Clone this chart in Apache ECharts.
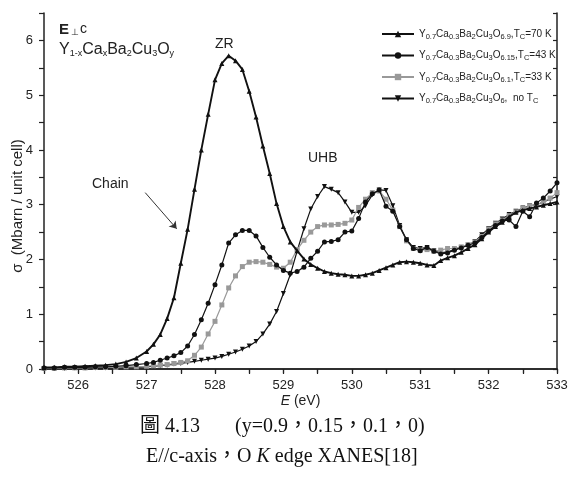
<!DOCTYPE html>
<html>
<head>
<meta charset="utf-8">
<script src="https://cdn.jsdelivr.net/npm/echarts@6/dist/echarts.min.js"></script>
<style>
  html, body { margin: 0; padding: 0; background: #fff; }
  #chart { width: 571px; height: 479px; }
</style>
</head>
<body>
<div id="chart"></div>
<script>
// photon energy (eV)
const energy = [525.5, 525.65, 525.8, 525.95, 526.1, 526.25, 526.4, 526.55, 526.7, 526.85, 527.0,
  527.1, 527.2, 527.3, 527.4, 527.5, 527.6, 527.7, 527.8, 527.9, 528.0,
  528.1, 528.2, 528.3, 528.4, 528.5, 528.6, 528.7, 528.8, 528.9, 529.0,
  529.1, 529.2, 529.3, 529.4, 529.5, 529.6, 529.7, 529.8, 529.9, 530.0,
  530.1, 530.2, 530.3, 530.4, 530.5, 530.6, 530.7, 530.8, 530.9, 531.0,
  531.1, 531.2, 531.3, 531.4, 531.5, 531.6, 531.7, 531.8, 531.9, 532.0,
  532.1, 532.2, 532.3, 532.4, 532.5, 532.6, 532.7, 532.8, 532.9, 533.0];

// sigma (Mbarn / unit cell)
const sigmaY69 = [0.03, 0.03, 0.04, 0.04, 0.05, 0.06, 0.07, 0.09, 0.13, 0.2, 0.32,
  0.45, 0.63, 0.92, 1.3, 1.93, 2.55, 3.28, 4.0, 4.65, 5.28,
  5.58, 5.72, 5.63, 5.47, 5.07, 4.6, 4.07, 3.57, 3.02, 2.6,
  2.32, 2.16, 2.01, 1.91, 1.84, 1.78, 1.75, 1.73, 1.72, 1.7,
  1.7, 1.72, 1.75, 1.8, 1.85, 1.9, 1.95, 1.96, 1.95, 1.93,
  1.9, 1.89, 1.98, 2.03, 2.07, 2.13, 2.2, 2.27, 2.38, 2.5,
  2.6, 2.68, 2.78, 2.86, 2.9, 2.93, 2.96, 2.99, 3.02, 3.05];

const sigmaY615 = [0.02, 0.02, 0.03, 0.03, 0.03, 0.04, 0.04, 0.05, 0.06, 0.08, 0.1,
  0.12, 0.16, 0.2, 0.24, 0.3, 0.42, 0.63, 0.9, 1.2, 1.54,
  1.9, 2.3, 2.45, 2.53, 2.53, 2.43, 2.22, 2.04, 1.9, 1.8,
  1.75, 1.78, 1.86, 2.02, 2.15, 2.32, 2.33, 2.36, 2.5, 2.52,
  2.75, 3.05, 3.2, 3.27, 2.97, 2.88, 2.6, 2.36, 2.2, 2.16,
  2.22, 2.15, 2.1, 2.12, 2.17, 2.21, 2.26, 2.3, 2.4, 2.52,
  2.62, 2.7, 2.72, 2.6, 2.88, 2.78, 3.03, 3.12, 3.25, 3.4];

const sigmaY61 = [0.01, 0.01, 0.02, 0.02, 0.02, 0.03, 0.03, 0.03, 0.04, 0.04, 0.05,
  0.06, 0.07, 0.08, 0.1, 0.12, 0.15, 0.25, 0.4, 0.64, 0.87,
  1.17, 1.48, 1.7, 1.87, 1.95, 1.96, 1.95, 1.91, 1.86, 1.84,
  1.95, 2.18, 2.35, 2.5, 2.6, 2.63, 2.63, 2.64, 2.66, 2.72,
  2.95, 3.1, 3.22, 3.25, 3.1, 2.9, 2.6, 2.34, 2.2, 2.17,
  2.18, 2.15, 2.17, 2.2, 2.2, 2.23, 2.27, 2.32, 2.42, 2.55,
  2.65, 2.72, 2.8, 2.87, 2.93, 2.98, 3.0, 3.05, 3.12, 3.22];

const sigmaY6 = [0.01, 0.01, 0.01, 0.02, 0.02, 0.02, 0.02, 0.03, 0.03, 0.03, 0.04,
  0.05, 0.06, 0.07, 0.09, 0.1, 0.12, 0.14, 0.16, 0.18, 0.2,
  0.23, 0.27, 0.31, 0.36, 0.42, 0.5, 0.64, 0.82, 1.05, 1.38,
  1.72, 2.15, 2.56, 2.92, 3.15, 3.33, 3.28, 3.22, 3.05, 2.86,
  2.86, 2.98, 3.18, 3.27, 3.26, 2.98, 2.62, 2.36, 2.22, 2.2,
  2.22, 2.16, 2.12, 2.14, 2.18, 2.22, 2.26, 2.33, 2.45, 2.56,
  2.66, 2.74, 2.82, 2.88, 2.94, 2.98, 3.0, 3.05, 3.1, 3.15];

const seriesNames = [
  'Y0.7Ca0.3Ba2Cu3O6.9, Tc=70 K',
  'Y0.7Ca0.3Ba2Cu3O6.15, Tc=43 K',
  'Y0.7Ca0.3Ba2Cu3O6.1, Tc=33 K',
  'Y0.7Ca0.3Ba2Cu3O6, no Tc'
];
const legendLabels = [
  'Y{s|0.7}Ca{s|0.3}Ba{s|2}Cu{s|3}O{s|6.9},T{s|C}=70 K',
  'Y{s|0.7}Ca{s|0.3}Ba{s|2}Cu{s|3}O{s|6.15},T{s|C}=43 K',
  'Y{s|0.7}Ca{s|0.3}Ba{s|2}Cu{s|3}O{s|6.1},T{s|C}=33 K',
  'Y{s|0.7}Ca{s|0.3}Ba{s|2}Cu{s|3}O{s|6},  no T{s|C}'
];

const FONT = '"Liberation Sans", Arial, sans-serif';
const SERIF = '"Liberation Serif", "Noto Sans CJK TC", serif';
const INK = '#222';

let chart = echarts.init(document.getElementById('chart'));

function makeSeries(idx, values, symbol, rotate, color, width) {
  return {
    name: seriesNames[idx],
    type: 'line',
    data: energy.map((e, i) => [e, values[i]]),
    symbol: symbol,
    symbolRotate: rotate,
    symbolSize: 5,
    lineStyle: { color: color, width: width },
    itemStyle: { color: color },
    z: 10 - idx
  };
}

let series = [
  makeSeries(0, sigmaY69, 'triangle', 0, '#111', 1.9),
  makeSeries(1, sigmaY615, 'circle', 0, '#111', 1.2),
  makeSeries(2, sigmaY61, 'rect', 0, '#999', 1.2),
  makeSeries(3, sigmaY6, 'triangle', 180, '#111', 1.2)
];

// "Chain" arrow
series[0].markLine = {
  silent: true,
  symbol: ['none', 'arrow'],
  symbolSize: 7,
  label: { show: false },
  lineStyle: { color: '#333', width: 1, type: 'solid' },
  data: [[{ coord: [526.98, 3.22] }, { coord: [527.44, 2.56] }]]
};

const subStyle = { fontSize: 7.5, padding: [5, 0, 0, 0], fontFamily: FONT, color: INK };

let option = {
  animation: false,
  backgroundColor: '#fff',
  textStyle: { fontFamily: FONT },
  grid: { left: 44, right: 14, top: 13, bottom: 110, outerBoundsMode: 'none' },
  legend: {
    orient: 'vertical',
    left: 381,
    top: 29,
    padding: 0,
    itemWidth: 32,
    itemHeight: 8,
    itemGap: 10,
    data: seriesNames,
    formatter: name => legendLabels[seriesNames.indexOf(name)],
    textStyle: {
      fontSize: 10, color: INK, fontFamily: FONT,
      rich: { s: subStyle }
    }
  },
  xAxis: [
    {
      type: 'value', position: 'bottom',
      min: 525.5, max: 533, interval: 0.5,
      name: '{i|E} (eV)', nameLocation: 'middle', nameGap: 25,
      nameMoveOverlap: false,
      nameTextStyle: {
        fontSize: 14, color: INK, verticalAlign: 'top',
        rich: { i: { fontStyle: 'italic', fontSize: 14, color: INK, fontFamily: FONT } }
      },
      axisLine: { lineStyle: { color: INK, width: 1.5 } },
      axisTick: { inside: false, length: 5, lineStyle: { color: INK, width: 1.2 } },
      axisLabel: { fontSize: 13, color: INK, margin: 10,
        formatter: v => Number.isInteger(v) ? String(v) : '' },
      splitLine: { show: false }
    },
    {
      type: 'value', position: 'top',
      min: 525.5, max: 533, interval: 0.5,
      axisLine: { lineStyle: { color: INK, width: 1.5 } },
      axisTick: { inside: true, length: 4, lineStyle: { color: INK, width: 1.2 } },
      axisLabel: { show: false },
      splitLine: { show: false }
    }
  ],
  yAxis: [
    {
      type: 'value', position: 'left',
      min: 0, max: 6.5, interval: 0.5,
      name: 'σ  (Mbarn / unit cell)', nameLocation: 'middle', nameGap: 19,
      nameMoveOverlap: false,
      nameTextStyle: { fontSize: 15, color: INK, padding: [0, 30, 0, 0] },
      axisLine: { lineStyle: { color: INK, width: 1.5 } },
      axisTick: { inside: false, length: 5, lineStyle: { color: INK, width: 1.2 } },
      axisLabel: { fontSize: 13, color: INK, margin: 11,
        formatter: v => Number.isInteger(v) ? String(v) : '' },
      splitLine: { show: false }
    },
    {
      type: 'value', position: 'right',
      min: 0, max: 6.5, interval: 0.5,
      axisLine: { lineStyle: { color: INK, width: 1.5 } },
      axisTick: { inside: true, length: 4, lineStyle: { color: INK, width: 1.2 } },
      axisLabel: { show: false },
      splitLine: { show: false }
    }
  ],
  series: series,
  graphic: [
    {
      type: 'text', left: 59, top: 22,
      style: {
        text: '{b|E}{p|⊥}c',
        fill: INK,
        font: '14px ' + FONT,
        rich: {
          b: { fontWeight: 'bold', fontSize: 15, fontFamily: FONT, color: INK },
          p: { fontSize: 9, padding: [6, 1, 0, 2], fontFamily: FONT, color: INK }
        }
      }
    },
    {
      type: 'text', left: 59, top: 42,
      style: {
        text: 'Y{s|1-x}Ca{s|x}Ba{s|2}Cu{s|3}O{s|y}',
        fill: INK,
        font: '16px ' + FONT,
        rich: { s: { fontSize: 9, padding: [8, 0, 0, 0], fontFamily: FONT, color: INK } }
      }
    },
    { type: 'text', left: 215, top: 37, style: { text: 'ZR', fill: INK, font: '14px ' + FONT } },
    { type: 'text', left: 308, top: 151, style: { text: 'UHB', fill: INK, font: '14px ' + FONT } },
    { type: 'text', left: 92, top: 177, style: { text: 'Chain', fill: INK, font: '14px ' + FONT } },
    {
      type: 'text', left: 140, top: 417,
      style: { text: '圖 4.13       (y=0.9，0.15，0.1，0)', fill: '#111', font: '20px ' + SERIF }
    },
    {
      type: 'text', left: 146, top: 447,
      style: {
        text: 'E//c-axis，O {i|K} edge XANES[18]',
        fill: '#111',
        font: '20px ' + SERIF,
        rich: { i: { fontStyle: 'italic', fontSize: 20, fontFamily: SERIF, color: '#111' } }
      }
    }
  ]
};

chart.setOption(option);
</script>
</body>
</html>
